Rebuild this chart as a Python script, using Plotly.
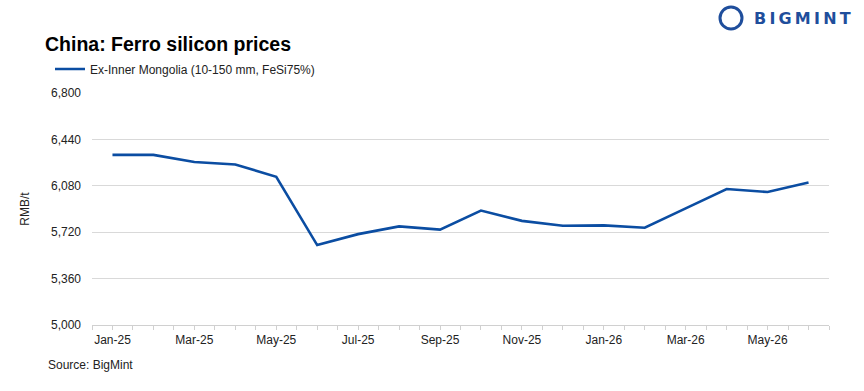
import plotly.graph_objects as go

months = ["Jan-25", "Feb-25", "Mar-25", "Apr-25", "May-25", "Jun-25", "Jul-25", "Aug-25", "Sep-25",
          "Oct-25", "Nov-25", "Dec-25", "Jan-26", "Feb-26", "Mar-26", "Apr-26", "May-26", "Jun-26"]
prices = [6320, 6320, 6265, 6245, 6150, 5620, 5705, 5765, 5740,
          5888, 5808, 5770, 5773, 5755, 5905, 6055, 6032, 6105]
y_ticks = [5000, 5360, 5720, 6080, 6440, 6800]
series_name = "Ex-Inner Mongolia (10-150 mm, FeSi75%)"

x_idx = list(range(len(months)))
tickvals = [i * 0.5 - 0.5 for i in range(2 * len(months) + 1)]
ticktext = [months[int(v)] if (v == int(v) and int(v) % 2 == 0) else "" for v in tickvals]

FONT = "Liberation Sans, Arial, sans-serif"
PW, PH = 737, 232
fig = go.Figure()
fig.add_trace(go.Scatter(x=x_idx, y=prices, mode="lines", name=series_name,
                         line=dict(color="#0B4DA2", width=2.6)))

fig.update_layout(
    width=864, height=391,
    margin=dict(l=92, r=35, t=93, b=66),
    paper_bgcolor="white", plot_bgcolor="white",
    font=dict(family=FONT, size=12, color="#222"),
    showlegend=True,
    legend=dict(x=(50 - 92) / PW, y=(325 - 69) / PH, xanchor="left", yanchor="middle",
                orientation="h", font=dict(size=12, color="#222"), itemwidth=30,
                bgcolor="rgba(0,0,0,0)"),
    title=dict(text="<b>China: Ferro silicon prices</b>", x=45 / 864, xanchor="left",
               y=1 - 44 / 391, yanchor="middle", font=dict(size=19.5, color="#000", family=FONT)),
    xaxis=dict(range=[-0.5, len(months) - 0.5], tickvals=tickvals, ticktext=ticktext,
               showgrid=False, showline=True, linecolor="#d0d0d0", linewidth=1,
               ticks="outside", ticklen=4, tickcolor="#d0d0d0", tickfont=dict(size=12, color="#222"),
               zeroline=False),
    yaxis=dict(range=[5000, 6800], tickvals=y_ticks, tickformat=",", showgrid=True,
               gridcolor="#d9d9d9", gridwidth=1, zeroline=False, showline=False,
               ticks="", ticklabelstandoff=10, tickfont=dict(size=12, color="#222"),
               title=dict(text="RMB/t", font=dict(size=12, color="#222"), standoff=18)),
)

fig.add_annotation(text="Source: BigMint", xref="paper", yref="paper",
                   x=-46 / PW, y=-40 / PH, xanchor="left", yanchor="middle",
                   showarrow=False, font=dict(size=12, color="#222"))

# logo
fig.add_shape(type="circle", xref="paper", yref="paper",
              x0=(720 - 92) / PW, x1=(742 - 92) / PW,
              y0=(325 - 29) / PH, y1=(325 - 7) / PH,
              line=dict(color="#1F4E9C", width=3), fillcolor="white")
fig.add_annotation(text="<b>B\u2009I\u2009G\u2009M\u2009I\u2009N\u2009T</b>", xref="paper", yref="paper",
                   x=(752 - 92) / PW, y=(325 - 18) / PH, xanchor="left", yanchor="middle",
                   showarrow=False, font=dict(size=16, color="#1F4E9C", family="DejaVu Sans"))

fig.write_html("out.html")
